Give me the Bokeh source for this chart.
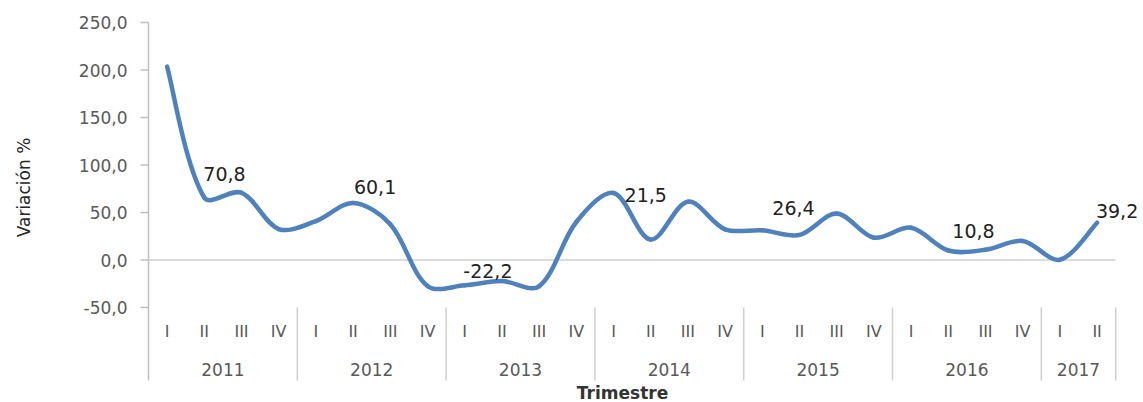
import numpy as np
from bokeh.plotting import figure
from bokeh.models import Range1d
from bokeh.core.properties import value
from bokeh.embed import file_html
from bokeh.resources import INLINE

# ---- data ----
years = ["2011", "2012", "2013", "2014", "2015", "2016", "2017"]
quarters_per_year = [4, 4, 4, 4, 4, 4, 2]
quarter_names = ["I", "II", "III", "IV"]
variacion = [203.5, 65.6, 70.8, 32.6,
             41.0, 60.1, 37.6, -27.4,
             -26.7, -22.2, -27.7, 40.0,
             70.5, 21.5, 61.4, 32.3,
             31.3, 26.4, 49.0, 23.5,
             34.0, 10.0, 10.8, 20.0,
             0.3, 39.2]
label_index = [2, 5, 9, 13, 17, 22, 25]
y_ticks = [-50, 0, 50, 100, 150, 200, 250]

FONT = "DejaVu Sans"
GRAY = "#595959"
LINE_GRAY = "#d0d0d0"
PX_X = 37.2   # px per category
PX_Y = 0.95   # px per unit
W, H = 1143, 402


def py(page_y):
    # page pixel -> data value (250 at page y 22)
    return 250 - (page_y - 22) / PX_Y


def px(page_x):
    # page pixel -> category position (first quarter at page x 166.6)
    return (page_x - 166.6) / PX_X


n = len(variacion)
xs = np.arange(n, dtype=float)
ys = np.array(variacion, dtype=float)

p = figure(width=W, height=H, output_backend="svg", toolbar_location=None,
           x_range=Range1d(px(0), px(W)), y_range=Range1d(py(H), py(0)),
           x_axis_location=None, y_axis_location=None,
           min_border_left=0, min_border_right=0, min_border_top=0, min_border_bottom=0)
p.outline_line_color = None
p.xgrid.visible = False
p.ygrid.visible = False

# value axis: line (continues through the category area), ticks, labels
p.segment(x0=[-0.5], y0=[max(y_ticks)], x1=[-0.5], y1=[py(380)], line_color="#c0c0c0", line_width=1.5)
p.segment(x0=[px(140)] * len(y_ticks), y0=y_ticks, x1=[-0.5] * len(y_ticks), y1=y_ticks,
          line_color="#bfbfbf", line_width=1.5)
p.text(x=[px(127)] * len(y_ticks), y=y_ticks,
       text=[f"{v:.1f}".replace(".", ",") for v in y_ticks],
       text_align="right", text_baseline="middle",
       text_font=value(FONT), text_font_size="17px", text_color=GRAY)

# zero line
p.segment(x0=[-0.5], y0=[0], x1=[n - 0.5], y1=[0], line_color=LINE_GRAY, line_width=1.5)

# category separators and labels
starts = np.cumsum([0] + quarters_per_year[:-1])
sep_x = [s - 0.5 for s in starts[1:]] + [n - 0.5]
p.segment(x0=sep_x, y0=[min(y_ticks)] * len(sep_x), x1=sep_x, y1=[py(380)] * len(sep_x),
          line_color=LINE_GRAY, line_width=1.5)

qx, qt = [], []
for s, k in zip(starts, quarters_per_year):
    for j in range(k):
        qx.append(s + j)
        qt.append(quarter_names[j])
p.text(x=qx, y=[py(331)] * len(qx), text=qt, text_align="center", text_baseline="middle",
       text_font=value(FONT), text_font_size="16px", text_color=GRAY)
yx = [s + (k - 1) / 2 for s, k in zip(starts, quarters_per_year)]
p.text(x=yx, y=[py(369)] * len(yx), text=years, text_align="center", text_baseline="middle",
       text_font=value(FONT), text_font_size="17px", text_color=GRAY)

# smoothed line (Excel-like: tangent split in proportion to chord lengths, screen space)
P = np.column_stack([xs * PX_X, ys * PX_Y])
t = 1 / 3
out_c = np.zeros_like(P)
in_c = np.zeros_like(P)
for i in range(n):
    if i == 0:
        out_c[i] = P[0] + (P[1] - P[0]) / 6
        continue
    if i == n - 1:
        in_c[i] = P[i] - (P[i] - P[i - 1]) / 6
        continue
    d = P[i + 1] - P[i - 1]
    l1 = np.hypot(*(P[i] - P[i - 1]))
    l2 = np.hypot(*(P[i + 1] - P[i]))
    out_c[i] = P[i] + d * t * l2 / (l1 + l2)
    in_c[i] = P[i] - d * t * l1 / (l1 + l2)
cx0 = out_c[:-1, 0] / PX_X
cy0 = out_c[:-1, 1] / PX_Y
cx1 = in_c[1:, 0] / PX_X
cy1 = in_c[1:, 1] / PX_Y
p.bezier(x0=xs[:-1], y0=ys[:-1], x1=xs[1:], y1=ys[1:], cx0=cx0, cy0=cy0, cx1=cx1, cy1=cy1,
         line_color="#4F81BD", line_width=4.5, line_cap="round")

# data labels
lab_dx = [-17, 22, -14, -5, -6, -12, 20]
lab_dy = [-19, -16, -10, -45, -27, -19, -12]
lx = [xs[i] for i in label_index]
ly = [ys[i] for i in label_index]
lt = [f"{variacion[i]:.1f}".replace(".", ",") for i in label_index]
p.text(x=lx, y=ly, text=lt, x_offset=lab_dx, y_offset=lab_dy,
       text_align="center", text_baseline="middle",
       text_font=value(FONT), text_font_size="19px", text_color="#222222")

# axis titles
p.text(x=[px(622)], y=[py(382)], text=["Trimestre"], text_align="center", text_baseline="top",
       text_font=value(FONT), text_font_size="17px", text_font_style="bold", text_color="#333333")
p.text(x=[px(23)], y=[py(187)], text=["Variación %"], angle=np.pi / 2,
       text_align="center", text_baseline="middle",
       text_font=value(FONT), text_font_size="17px", text_color="#262626")

open("out.html", "w").write(file_html(p, INLINE))
